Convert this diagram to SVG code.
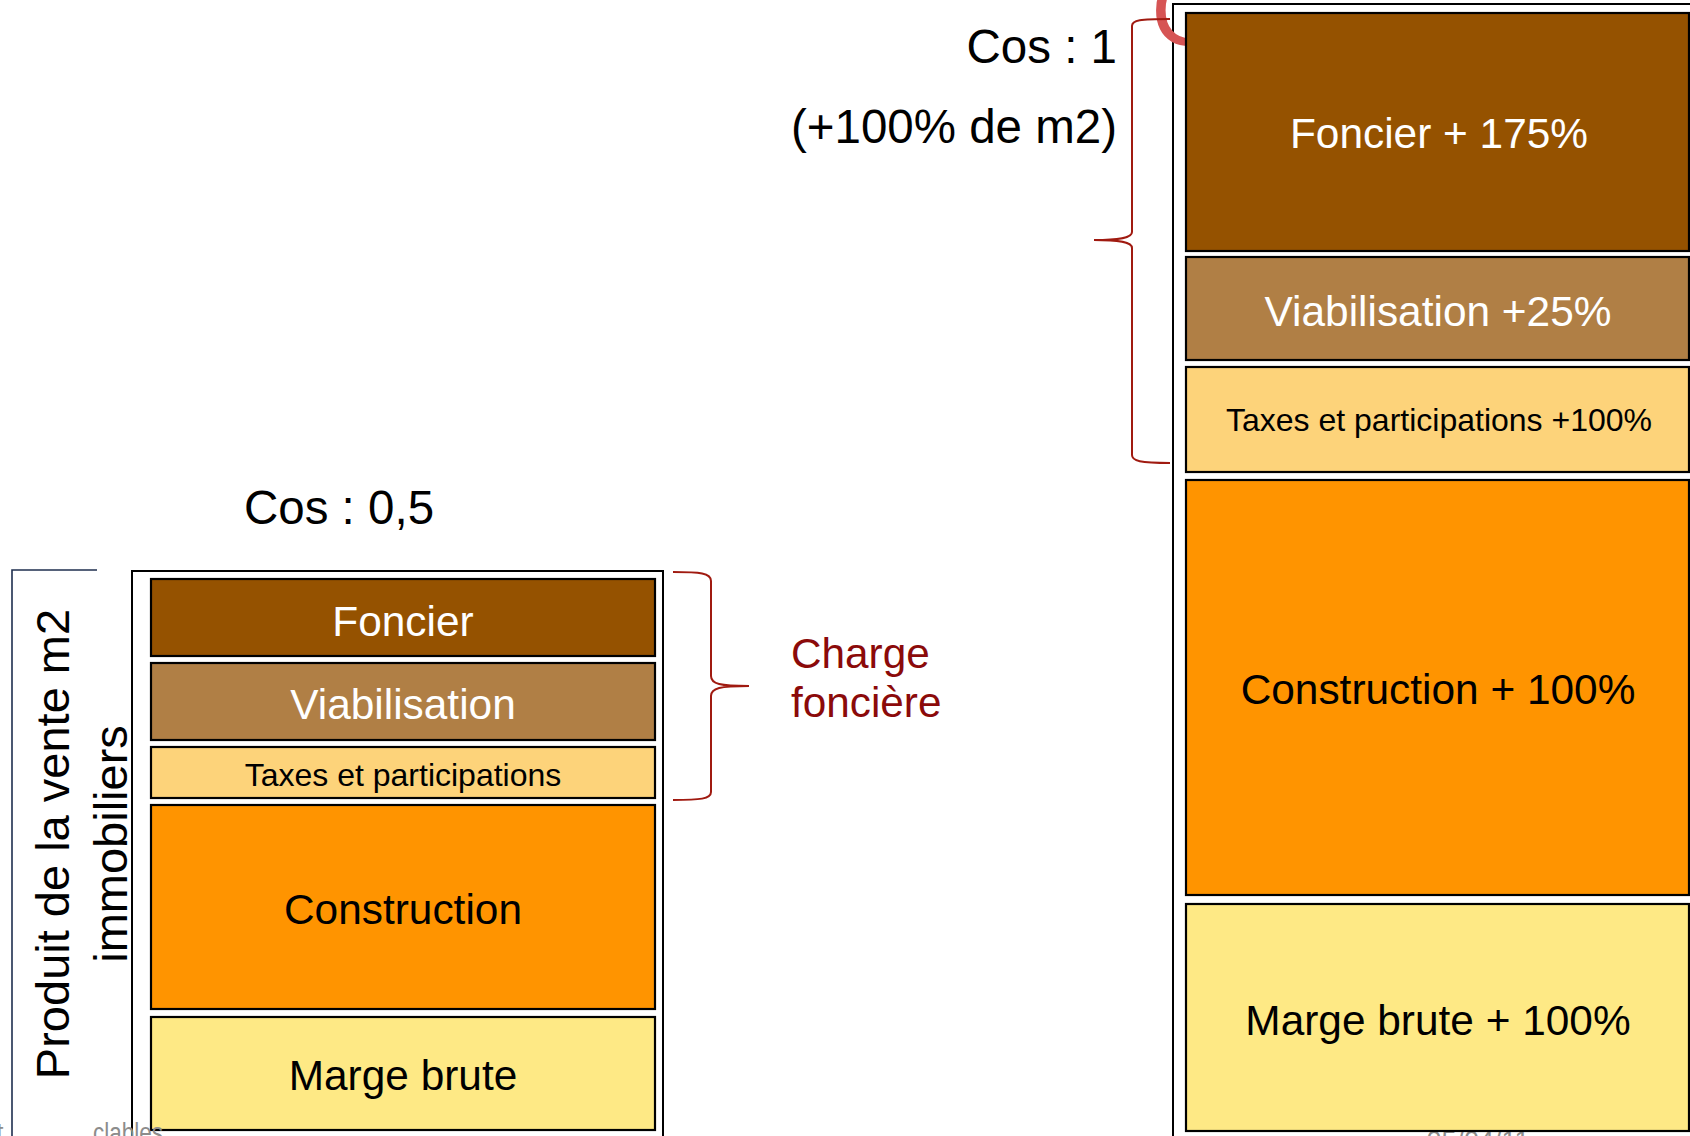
<svg xmlns="http://www.w3.org/2000/svg" width="1690" height="1136" viewBox="0 0 1690 1136">
<style>
  text { font-family: "Liberation Sans", Arial, sans-serif; }
  .frame { fill: none; stroke: #000000; stroke-width: 2; }
  .bar { stroke: #000000; stroke-width: 2.2; }
  .foncier { fill: #955200; }
  .viab { fill: #B07F45; }
  .taxes { fill: #FDD37A; }
  .constr { fill: #FF9400; }
  .marge { fill: #FEE985; }
  .w42 { font-size: 42.4px; fill: #ffffff; text-anchor: middle; }
  .b42 { font-size: 42.4px; fill: #000000; text-anchor: middle; }
  .b30 { font-size: 32px; fill: #000000; text-anchor: middle; }
  .cos { font-size: 47.5px; fill: #000000; }
  .brace { fill: none; stroke: #A01A10; stroke-width: 2; }
  .foot { font-size: 27px; fill: #8c8c8c; }
</style>

<!-- footer fragment partly hidden behind the right chart -->
<text x="1478" y="1150" class="foot" text-anchor="middle">05/04/11</text>

<!-- left axis label -->
<g id="axis-label">
  <path d="M97,570 H12 V1136" fill="none" stroke="#1F2F4F" stroke-width="1.6"/>
  <text transform="translate(69,844) rotate(-90)" font-size="47" text-anchor="middle">Produit de la vente m2</text>
  <text transform="translate(127,844) rotate(-90)" font-size="47" text-anchor="middle">immobiliers</text>
</g>

<!-- left chart -->
<g id="chart-cos05">
  <rect class="frame" x="132" y="571" width="531" height="580"/>
  <text class="cos" x="339" y="524" text-anchor="middle">Cos : 0,5</text>
  <g id="l-foncier">
    <rect class="bar foncier" x="151" y="579" width="504" height="77"/>
    <text class="w42" x="403" y="636">Foncier</text>
  </g>
  <g id="l-viab">
    <rect class="bar viab" x="151" y="663" width="504" height="77"/>
    <text class="w42" x="403" y="719">Viabilisation</text>
  </g>
  <g id="l-taxes">
    <rect class="bar taxes" x="151" y="747" width="504" height="51"/>
    <text class="b30" x="403" y="786">Taxes et participations</text>
  </g>
  <g id="l-constr">
    <rect class="bar constr" x="151" y="805" width="504" height="204"/>
    <text class="b42" x="403" y="924">Construction</text>
  </g>
  <g id="l-marge">
    <rect class="bar marge" x="151" y="1017" width="504" height="113"/>
    <text class="b42" x="403" y="1090">Marge brute</text>
  </g>
</g>

<!-- footer fragments at bottom left -->
<text x="-4" y="1142" class="foot">t</text>
<text x="93" y="1142" class="foot" font-size="26" textLength="70" lengthAdjust="spacingAndGlyphs">clables</text>

<!-- right chart -->
<g id="chart-cos1">
  <rect class="frame" x="1173" y="4" width="560" height="1150"/>
  <text x="1151" y="45" font-size="100" fill="#D65454">C</text>
  <text class="cos" x="1117" y="63" text-anchor="end">Cos : 1</text>
  <text class="cos" x="1117" y="143" text-anchor="end">(+100% de m2)</text>
  <g id="r-foncier">
    <rect class="bar foncier" x="1186" y="13" width="503" height="238"/>
    <text class="w42" x="1439" y="148">Foncier + 175%</text>
  </g>
  <g id="r-viab">
    <rect class="bar viab" x="1186" y="257" width="503" height="103"/>
    <text class="w42" x="1438" y="326">Viabilisation +25%</text>
  </g>
  <g id="r-taxes">
    <rect class="bar taxes" x="1186" y="367" width="503" height="105"/>
    <text class="b30" x="1439" y="431">Taxes et participations +100%</text>
  </g>
  <g id="r-constr">
    <rect class="bar constr" x="1186" y="480" width="503" height="415"/>
    <text class="b42" x="1438" y="704">Construction + 100%</text>
  </g>
  <g id="r-marge">
    <rect class="bar marge" x="1186" y="904" width="503" height="227"/>
    <text class="b42" x="1438" y="1035">Marge brute + 100%</text>
  </g>
</g>

<!-- braces -->
<g id="connectors">
  <path class="brace" d="M673,572 C700,572 711,573 711,581 V676 C711,684 720,686 749,686 C720,686 711,688 711,696 V792 C711,799 700,800 673,800"/>
  <path class="brace" d="M1170,19 C1140,19 1132,20 1132,26 V232 C1132,238 1120,240 1094,240 C1120,240 1132,242 1132,248 V455 C1132,461 1140,463 1170,463"/>
  <g id="charge-label">
    <text x="791" y="668" font-size="42.3" fill="#8B0A0A">Charge</text>
    <text x="791" y="717" font-size="42.3" fill="#8B0A0A">foncière</text>
  </g>
</g>
</svg>
